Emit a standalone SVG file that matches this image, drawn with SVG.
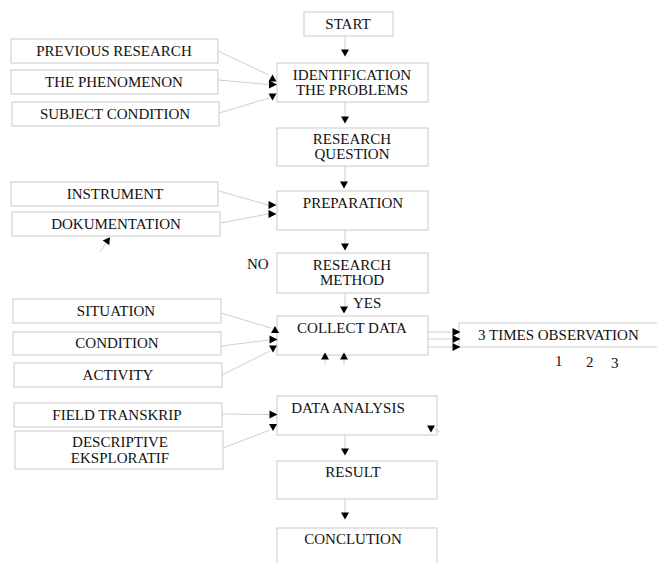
<svg xmlns="http://www.w3.org/2000/svg" xmlns:xlink="http://www.w3.org/1999/xlink" width="657" height="563" viewBox="0 0 657 563" font-family="Liberation Serif, Times New Roman, DejaVu Serif, serif">
<style>
.box{fill:#fff;stroke:#d2d2d2;stroke-width:1.2}
.t{font-family:'Liberation Serif','Times New Roman','DejaVu Serif',serif;font-size:15px;fill:#111;text-anchor:middle}
.tl{font-family:'Liberation Serif','Times New Roman','DejaVu Serif',serif;font-size:15px;fill:#111}
.c{stroke:#cfcfcf;stroke-width:1;fill:none}
.ah{fill:#000}
</style>
<defs>
<path id="tD" class="ah" d="M-4,-3.5 L4,-3.5 L0,3.5 Z"/>
<path id="tU" class="ah" d="M-4,3.5 L4,3.5 L0,-3.5 Z"/>
<path id="tR" class="ah" d="M-3.5,-4 L-3.5,4 L4.5,0 Z"/>
</defs>
<rect width="657" height="563" fill="#fff"/>

<g id="start"><rect class="box" x="304" y="12" width="89" height="24"/><text class="t" x="348" y="29">START</text></g>
<g id="identification"><rect class="box" x="277" y="63" width="151" height="39"/><text class="t" x="352" y="80">IDENTIFICATION</text><text class="t" x="352" y="95">THE PROBLEMS</text></g>
<g id="research-question"><rect class="box" x="277" y="128" width="151" height="38"/><text class="t" x="352" y="144">RESEARCH</text><text class="t" x="352" y="159">QUESTION</text></g>
<g id="preparation"><rect class="box" x="277" y="191" width="151" height="39"/><text class="t" x="353" y="208">PREPARATION</text></g>
<g id="research-method"><rect class="box" x="277" y="253" width="151" height="40"/><text class="t" x="352" y="270">RESEARCH</text><text class="t" x="352" y="285">METHOD</text></g>
<g id="collect-data"><rect class="box" x="277" y="316" width="151" height="39"/><text class="t" x="352" y="333">COLLECT DATA</text></g>
<g id="observation"><rect class="box" x="459" y="323" width="210" height="24"/><text class="tl" x="478" y="340">3 TIMES OBSERVATION</text><text class="tl" x="555" y="366">1</text><text class="tl" x="586" y="367">2</text><text class="tl" x="611" y="368">3</text></g>
<g id="data-analysis"><rect class="box" x="277" y="396" width="160" height="39"/><text class="t" x="348" y="413">DATA ANALYSIS</text></g>
<g id="result"><rect class="box" x="277" y="461" width="160" height="38"/><text class="t" x="353" y="477">RESULT</text></g>
<g id="conclution"><rect class="box" x="277" y="528" width="160" height="45"/><text class="t" x="353" y="544">CONCLUTION</text></g>

<g id="previous-research"><rect class="box" x="11" y="39" width="207" height="24"/><text class="t" x="114" y="56">PREVIOUS RESEARCH</text></g>
<g id="phenomenon"><rect class="box" x="11" y="70" width="207" height="24"/><text class="t" x="114" y="87">THE PHENOMENON</text></g>
<g id="subject-condition"><rect class="box" x="12" y="102" width="207" height="24"/><text class="t" x="115" y="119">SUBJECT CONDITION</text></g>
<g id="instrument"><rect class="box" x="11" y="182" width="207" height="24"/><text class="t" x="115" y="199">INSTRUMENT</text></g>
<g id="dokumentation"><rect class="box" x="12" y="212" width="208" height="24"/><text class="t" x="116" y="229">DOKUMENTATION</text></g>
<g id="situation"><rect class="box" x="13" y="299" width="208" height="24"/><text class="t" x="116" y="316">SITUATION</text></g>
<g id="condition"><rect class="box" x="13" y="332" width="208" height="23"/><text class="t" x="117" y="348">CONDITION</text></g>
<g id="activity"><rect class="box" x="14" y="363" width="208" height="24"/><text class="t" x="118" y="380">ACTIVITY</text></g>
<g id="field-transkrip"><rect class="box" x="14" y="403" width="208" height="24"/><text class="t" x="117" y="420">FIELD TRANSKRIP</text></g>
<g id="descriptive"><rect class="box" x="15" y="431" width="208" height="38"/><text class="t" x="120" y="447">DESCRIPTIVE</text><text class="t" x="120" y="463">EKSPLORATIF</text></g>

<g id="labels"><text class="tl" x="247" y="269">NO</text><text class="tl" x="353" y="308">YES</text></g>

<g id="connectors">
<line class="c" x1="345" y1="36" x2="345" y2="50"/><use xlink:href="#tD" x="345" y="53"/>
<line class="c" x1="345" y1="102" x2="345" y2="117"/><use xlink:href="#tD" x="345" y="120"/>
<line class="c" x1="345" y1="166" x2="345" y2="182"/><use xlink:href="#tD" x="344" y="185"/>
<line class="c" x1="345" y1="230" x2="345" y2="244"/><use xlink:href="#tD" x="345" y="247"/>
<line class="c" x1="345" y1="293" x2="345" y2="307"/><use xlink:href="#tD" x="344" y="310"/>
<line class="c" x1="345" y1="435" x2="345" y2="449"/><use xlink:href="#tD" x="345" y="452"/>
<line class="c" x1="345" y1="499" x2="345" y2="513"/><use xlink:href="#tD" x="345" y="516"/>

<line class="c" x1="218" y1="51" x2="269" y2="75"/><use xlink:href="#tU" x="272.5" y="78"/>
<line class="c" x1="218" y1="80" x2="269" y2="84.5"/><use xlink:href="#tR" x="272.5" y="84.5"/>
<line class="c" x1="219" y1="113" x2="269" y2="98"/><use xlink:href="#tD" x="272.5" y="97"/>

<line class="c" x1="219" y1="191" x2="268" y2="205"/><use xlink:href="#tR" x="272" y="205"/>
<line class="c" x1="221" y1="223" x2="268" y2="214"/><use xlink:href="#tR" x="272" y="214"/>
<line class="c" x1="100" y1="252" x2="106" y2="243"/><use xlink:href="#tU" transform="translate(108,240) rotate(35)"/>

<line class="c" x1="221" y1="313" x2="271" y2="328"/><use xlink:href="#tU" x="275" y="329.5"/>
<line class="c" x1="221" y1="346" x2="269" y2="340"/><use xlink:href="#tR" x="273" y="339.5"/>
<line class="c" x1="222" y1="375" x2="270" y2="351"/><use xlink:href="#tD" x="273" y="349"/>

<line class="c" x1="428" y1="332" x2="452" y2="332"/><use xlink:href="#tR" x="456" y="332"/>
<line class="c" x1="428" y1="339" x2="452" y2="339"/><use xlink:href="#tR" x="456" y="339"/>
<line class="c" x1="428" y1="347" x2="452" y2="347"/><use xlink:href="#tR" x="456" y="347"/>

<line class="c" x1="325" y1="359" x2="325" y2="365"/><use xlink:href="#tU" x="325" y="356"/>
<line class="c" x1="344" y1="359" x2="344" y2="365"/><use xlink:href="#tU" x="344" y="356"/>

<line class="c" x1="222" y1="414" x2="269" y2="414.5"/><use xlink:href="#tR" x="273" y="414.5"/>
<line class="c" x1="223" y1="448" x2="270" y2="430"/><use xlink:href="#tD" x="273" y="427.5"/>
<line class="c" x1="434" y1="429" x2="440" y2="432"/><use xlink:href="#tD" x="431" y="429"/>
</g>
</svg>
